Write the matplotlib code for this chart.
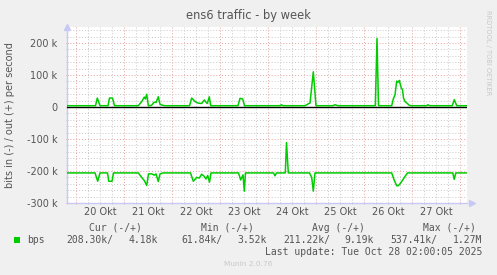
import matplotlib
matplotlib.use("Agg")
import matplotlib.pyplot as plt
from matplotlib.ticker import MultipleLocator, FixedLocator

# hours since 20 Okt 00:00, values in k bit/s
out_hours = [-4.5, 9.75, 10.65, 12, 16, 16.75, 18.25, 19.25, 31.15, 32.85, 34.15, 34.65,
             35.35, 36.15, 37.75, 39, 40, 41.15, 42, 43.65, 44.5, 56.75, 57.85, 59.5,
             61.15, 62.85, 64.15, 65, 65.65, 66.65, 67.35, 81, 82, 83.35, 84.25, 102,
             102.75, 103.5, 114.5, 116.15, 117, 118.65, 120, 128.5, 129.5, 131, 149.65,
             150.5, 151.25, 157.85, 158.65, 159.5, 160.35, 161, 161.65, 162.25, 162.75,
             163.25, 163.75, 164.5, 165.5, 166.5, 167.25, 175.25, 176, 176.75, 188.15,
             189.15, 190.35, 195.5]
out_k = [4, 4, 28, 4, 4, 28, 28, 4, 4, 17, 31, 25,
         40, 4, 5, 15, 14, 32, 8, 5, 4, 4, 28, 17,
         12, 11, 22, 15, 11, 32, 4, 4, 27, 25, 4, 4,
         7, 4, 4, 10, 12, 110, 4, 4, 7, 4, 4,
         214, 4, 4, 25, 38, 81, 77, 83, 68, 58,
         55, 28, 17, 12, 6, 4, 4, 7, 4, 4,
         23, 4, 4]

in_hours = [-4.5, 9.5, 10.85, 12, 15.75, 16.4, 18, 18.75, 31.15, 32.85, 34.15, 35.35,
            36.25, 37.85, 39.15, 40, 41.15, 42, 43.5, 57.25, 58.65, 60.35, 61.65, 62.85,
            64, 65, 65.85, 66.75, 67.5, 81.25, 82.35, 83.5, 84.15, 84.75, 98.75, 99.5,
            100.25, 104.65, 105.25, 106.15, 116.75, 117.85, 118.65, 119.5, 157.85, 159,
            160.35, 161.15, 162, 163.15, 164.5, 165.75, 188.4, 189.1, 189.9, 195.5]
in_k = [-206, -206, -232, -206, -206, -232, -232, -206, -206, -220, -230, -245,
        -209, -209, -213, -209, -233, -209, -206, -206, -232, -220, -222, -210,
        -216, -225, -214, -235, -206, -206, -228, -212, -263, -206, -206, -215,
        -206, -206, -111, -206, -206, -220, -263, -206, -206, -227,
        -246, -246, -240, -230, -217, -206, -206, -226, -206, -206]

day_labels = ["20 Okt", "21 Okt", "22 Okt", "23 Okt", "24 Okt", "25 Okt", "26 Okt", "27 Okt"]
y_ticks = [-300, -200, -100, 0, 100, 200]

legend_heads = ["Cur (-/+)", "Min (-/+)", "Avg (-/+)", "Max (-/+)"]
legend_in = ["208.30k/", "61.84k/", "211.22k/", "537.41k/"]
legend_out = ["4.18k", "3.52k", "9.19k", "1.27M"]

W, H = 497, 275
fig = plt.figure(figsize=(W / 100, H / 100), dpi=100, facecolor="#F0F0F0")
ax = fig.add_axes([67 / W, 72 / H, 400 / W, 176 / H])
ax.set_facecolor("white")
ax.set_xlim(-4.5, 195.5)
ax.set_ylim(-300, 250)

def px(x, y):
    return x / W, 1 - y / H

# grid
ax.xaxis.set_major_locator(MultipleLocator(24))
ax.xaxis.set_minor_locator(MultipleLocator(6))
ax.yaxis.set_major_locator(FixedLocator(y_ticks))
ax.yaxis.set_minor_locator(MultipleLocator(20))
ax.grid(which="minor", color="#C8C8C8", linestyle=(0, (1, 2)), linewidth=0.7)
ax.grid(which="major", color="#E6A0A0", linestyle=(0, (1, 2)), linewidth=0.7)
ax.set_axisbelow(True)

for s in ["top", "right"]:
    ax.spines[s].set_visible(False)
for s in ["left", "bottom"]:
    ax.spines[s].set_color("#C8C8F4")
    ax.spines[s].set_linewidth(1)

ax.tick_params(which="major", length=2, color="#E6A0A0", direction="inout")
ax.tick_params(which="minor", length=2, color="#C8C8C8", direction="inout")
ax.set_xticklabels([])
ax.set_yticklabels(["%d k" % v if v != 0 else "0" for v in y_ticks],
                   fontsize=7, color="#555555")
ax.tick_params(axis="y", pad=6)

# day labels at noon
for i, lab in enumerate(day_labels):
    ax.text(12 + 24 * i, -300, lab, ha="center", va="top", fontsize=7, color="#555555",
            transform=ax.transData)
for t in ax.texts:
    t.set_y(-300 - 4 / 0.32)

# axis arrows
ax.plot([0], [1], marker="^", color="#C8C8F4", markersize=5, transform=ax.transAxes,
        clip_on=False)
ax.plot([1.012], [0], marker=">", color="#C8C8F4", markersize=5, transform=ax.transAxes,
        clip_on=False)

ax.axhline(0, color="black", linewidth=1, zorder=3)
ax.plot(out_hours, out_k, color="#00CC00", linewidth=1.1, zorder=4)
ax.plot(in_hours, in_k, color="#00CC00", linewidth=1.1, zorder=4)

# title and labels
fig.text(*px(248, 15), "ens6 traffic - by week", ha="center", va="center",
         fontsize=8.3, color="#555555")
fig.text(*px(10, 115), "bits in (-) / out (+) per second", ha="center", va="center",
         rotation=90, fontsize=7, color="#555555")
fig.text(*px(488, 53), "RRDTOOL / TOBI OETIKER", ha="center", va="center",
         rotation=270, fontsize=4.8, color="#C8C8C8")

# legend
mono = dict(family="DejaVu Sans Mono", fontsize=7, color="#555555", va="center")
head_x = [89.3, 200.7, 311.7, 422.7]
in_x = [66.7, 181, 283.3, 390.7]
out_right = [157.7, 266.7, 374, 482.3]
for i in range(4):
    fig.text(*px(head_x[i], 227.7), legend_heads[i], ha="left", **mono)
    fig.text(*px(in_x[i], 240), legend_in[i], ha="left", **mono)
    fig.text(*px(out_right[i], 240), legend_out[i], ha="right", **mono)
fig.text(*px(26.7, 240), "bps", ha="left", **mono)
fig.patches.append(plt.Rectangle(px(14, 243), 6 / W, 6 / H, transform=fig.transFigure,
                                 facecolor="#00CC00", edgecolor="none"))
fig.text(*px(482.3, 251.7), "Last update: Tue Oct 28 02:00:05 2025", ha="right", **mono)
fig.text(*px(248, 264), "Munin 2.0.76", ha="center", va="center", fontsize=5.3,
         color="#C8C8C8")

fig.savefig("out.png", dpi=100, facecolor=fig.get_facecolor())
